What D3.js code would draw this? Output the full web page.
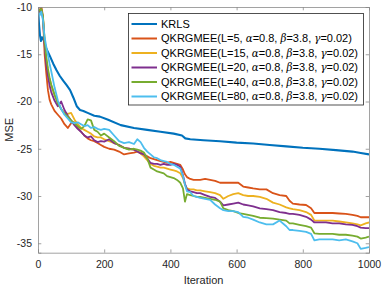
<!DOCTYPE html>
<html><head><meta charset="utf-8">
<script src="https://cdn.jsdelivr.net/npm/d3@7"></script>
<style>body{margin:0;background:#fff}svg{display:block}text{font-family:"Liberation Sans",Arial,sans-serif}</style>
</head><body><svg id="c" width="382" height="287"></svg>
<script>
const xTicks = [0, 200, 400, 600, 800, 1000];
const yTicks = [-35, -30, -25, -20, -15, -10];

const krlsIter = [0,3,6,9,12,15,20,25,36,46,56,66,76,87,97,107,117,127,137,150,170,187,210,250,290,330,370,410,435,445,460,500,550,600,650,700,750,800,850,900,950,975,1000];
const krls = [-10,-11.8,-13.0,-13.6,-13.2,-13.3,-13.8,-14.4,-15.2,-16.0,-16.7,-17.3,-17.8,-18.3,-18.8,-19.6,-20.5,-20.9,-21.0,-21.2,-21.5,-21.6,-21.9,-22.5,-22.8,-23.0,-23.2,-23.4,-23.6,-23.9,-24.0,-24.1,-24.2,-24.35,-24.45,-24.6,-24.75,-24.9,-25.0,-25.15,-25.3,-25.45,-25.6];

const iter = [0,5,10,15,20,25,30,35,40,50,60,70,80,90,100,110,120,130,140,150,160,170,180,190,200,215,230,245,260,275,290,300,310,320,330,340,350,360,370,380,390,400,410,420,430,438,444,450,460,470,480,490,505,520,535,550,560,575,590,605,620,635,650,670,690,710,730,750,760,770,790,810,825,835,850,870,890,910,930,950,965,975,990,1000];

const qL5 = [-10.2,-10.4,-9.9,-11.0,-15.0,-17.0,-18.8,-19.8,-20.3,-21.0,-21.4,-21.8,-22.4,-22.8,-22.3,-22.2,-22.8,-23.2,-23.6,-23.9,-24.1,-24.2,-24.4,-24.6,-24.8,-25.0,-25.1,-25.3,-25.6,-25.5,-25.4,-25.3,-25.4,-25.6,-25.8,-26.0,-26.1,-26.2,-26.3,-26.4,-26.5,-26.4,-26.5,-26.6,-26.7,-27.2,-27.7,-28.0,-28.2,-28.3,-28.3,-28.3,-28.2,-28.3,-28.4,-28.6,-28.6,-28.6,-28.6,-28.6,-29.0,-29.1,-29.2,-29.3,-29.3,-29.7,-29.9,-30.0,-30.5,-30.8,-30.9,-30.95,-31.3,-31.8,-31.8,-31.8,-31.8,-31.85,-31.9,-32.0,-32.1,-32.25,-32.25,-32.25];
const qL15 = [-10.3,-10.6,-10.4,-11.0,-13.5,-15.5,-16.8,-17.6,-18.3,-19.3,-20.1,-20.8,-21.2,-21.3,-21.2,-21.9,-22.4,-22.8,-23.0,-23.2,-23.4,-23.7,-23.8,-23.8,-24.0,-24.2,-24.4,-24.6,-24.9,-25.0,-25.1,-25.3,-25.5,-25.8,-26.2,-26.6,-26.8,-26.9,-27.0,-27.0,-27.1,-27.2,-27.3,-27.4,-27.6,-28.1,-28.8,-29.2,-29.3,-29.3,-29.4,-29.4,-29.5,-29.6,-29.7,-29.9,-30.3,-30.0,-29.8,-29.7,-29.9,-30.0,-30.0,-30.1,-30.3,-30.7,-30.9,-31.2,-31.3,-31.4,-31.5,-31.7,-32.0,-32.6,-32.6,-32.6,-32.6,-32.7,-32.8,-32.9,-33.0,-33.1,-32.9,-32.8];
const qL20 = [-10.3,-10.5,-10.3,-11.2,-14.0,-16.0,-17.3,-18.3,-19.0,-19.9,-20.5,-20.0,-20.9,-21.5,-22.0,-22.5,-22.9,-23.2,-23.6,-23.8,-23.7,-24.1,-24.3,-24.2,-24.25,-24.0,-24.4,-24.6,-24.9,-25.0,-25.1,-25.3,-25.5,-25.6,-26.0,-26.5,-26.6,-26.6,-26.7,-26.6,-26.7,-26.7,-26.6,-26.7,-26.9,-27.8,-28.7,-29.3,-29.5,-29.6,-29.7,-29.7,-29.9,-30.1,-30.2,-30.6,-31.0,-30.9,-30.8,-30.7,-30.9,-31.0,-31.1,-31.3,-31.4,-31.5,-31.7,-31.8,-31.9,-31.9,-32.0,-32.2,-32.5,-32.8,-32.8,-32.8,-32.9,-32.9,-33.0,-33.05,-33.2,-33.35,-33.4,-33.4];
const qL40 = [-10.2,-10.4,-10.2,-11.0,-13.6,-15.3,-16.5,-17.5,-18.2,-19.3,-20.2,-20.8,-21.3,-21.6,-22.0,-22.3,-22.6,-22.9,-22.6,-21.9,-22.0,-23.0,-23.2,-23.6,-23.4,-23.8,-24.2,-24.7,-24.9,-25.1,-25.0,-25.1,-25.2,-25.4,-26.0,-27.0,-27.2,-27.4,-27.5,-27.6,-27.9,-28.0,-28.1,-28.3,-28.6,-29.2,-30.6,-29.8,-29.9,-30.0,-30.1,-30.1,-30.2,-30.3,-30.4,-30.6,-31.3,-31.5,-31.6,-31.8,-31.9,-32.0,-32.1,-32.3,-32.35,-32.4,-32.5,-32.6,-32.9,-32.9,-33.05,-33.2,-33.35,-33.95,-34.0,-34.0,-34.0,-34.1,-34.1,-34.2,-34.3,-34.5,-34.4,-34.3];
const qL80 = [-10.5,-10.9,-10.5,-11.4,-13.2,-14.2,-15.1,-16.0,-16.8,-18.5,-19.9,-20.8,-21.4,-21.8,-22.2,-22.3,-22.2,-22.4,-22.6,-22.5,-22.8,-22.7,-22.9,-23.0,-22.9,-23.0,-23.6,-24.2,-24.4,-24.3,-24.5,-24.0,-24.3,-24.9,-25.3,-25.6,-25.9,-26.0,-26.2,-26.3,-26.4,-26.6,-26.7,-26.9,-27.1,-27.9,-28.8,-29.5,-29.6,-30.0,-30.1,-30.2,-30.3,-30.4,-30.9,-31.3,-31.5,-31.6,-31.6,-31.7,-32.2,-32.3,-32.5,-32.8,-33.0,-33.0,-32.6,-33.2,-33.6,-33.6,-33.7,-33.8,-34.0,-34.7,-34.6,-34.6,-34.6,-34.7,-34.6,-34.8,-35.0,-35.6,-35.5,-35.4];

const names = ["KRLS","QKRGMEE(L=5, ","QKRGMEE(L=15, ","QKRGMEE(L=20, ","QKRGMEE(L=40, ","QKRGMEE(L=80, "];
const colors = ["#0072BD","#D95319","#EDB120","#7E2F8E","#77AC30","#4DBEEE"];

const series = [
  {x: krlsIter, y: krls},
  {x: iter, y: qL5},
  {x: iter, y: qL15},
  {x: iter, y: qL20},
  {x: iter, y: qL40},
  {x: iter, y: qL80}
];

const svg = d3.select("#c");
const L = 38, R = 369, T = 7, B = 252.7;
const x = d3.scaleLinear().domain([0, 1000]).range([L, R]);
const y = d3.scaleLinear().domain([-36, -10]).range([B, T]);
const axisColor = "#262626";
const frameColor = "#8a8a8a";

svg.append("defs").append("clipPath").attr("id","clip")
  .append("rect").attr("x", L).attr("y", T).attr("width", R-L).attr("height", B-T);

const line = d3.line().x(d => x(d[0])).y(d => y(d[1]));
const plot = svg.append("g").attr("clip-path","url(#clip)");
series.forEach((s, i) => {
  plot.append("path")
    .datum(s.x.map((v, k) => [v, s.y[k]]))
    .attr("d", line)
    .attr("fill","none")
    .attr("stroke", colors[i])
    .attr("stroke-width", i === 0 ? 2.1 : 1.8)
    .attr("stroke-linejoin","round");
});

// axes
const tl = 3.3;
const fmt = d3.format("d");
const gx = svg.append("g").attr("transform", `translate(0,${B})`)
  .call(d3.axisBottom(x).tickValues(xTicks).tickSize(-tl).tickPadding(8).tickFormat(fmt));
const gxt = svg.append("g").attr("transform", `translate(0,${T})`)
  .call(d3.axisTop(x).tickValues(xTicks).tickSize(-tl).tickFormat(""));
const gy = svg.append("g").attr("transform", `translate(${L},0)`)
  .call(d3.axisLeft(y).tickValues(yTicks).tickSize(-tl).tickPadding(6).tickFormat(d => "-" + Math.abs(d)));
const gyr = svg.append("g").attr("transform", `translate(${R},0)`)
  .call(d3.axisRight(y).tickValues(yTicks).tickSize(-tl).tickFormat(""));
[gx, gxt, gy, gyr].forEach(g => {
  g.select(".domain").attr("stroke", frameColor).attr("stroke-width", 0.8);
  g.selectAll(".tick line").attr("stroke", frameColor).attr("stroke-width", 0.8);
  g.selectAll("text").attr("fill", axisColor).style("font-size","10.5px").style("font-family",'"Liberation Sans",Arial,sans-serif');
});

svg.append("text").attr("x", (L+R)/2).attr("y", 284).attr("text-anchor","middle")
  .attr("fill", axisColor).style("font-size","11px").text("Iteration");
svg.append("text").attr("transform", `translate(13,${(T+B)/2}) rotate(-90)`).attr("text-anchor","middle")
  .attr("fill", axisColor).style("font-size","11px").text("MSE");

// legend
const lg = svg.append("g");
lg.append("rect").attr("x",128.5).attr("y",13.5).attr("width",235).attr("height",91.5)
  .attr("fill","#fff").attr("stroke","#262626").attr("stroke-width",0.8);
const greek = t => t.append("tspan").style("font-style","italic").style("font-family",'"DejaVu Serif",serif').style("font-size","10.3px");
names.forEach((n, i) => {
  const yy = 24 + i*14.5;
  lg.append("line").attr("x1",131.5).attr("x2",157).attr("y1",yy).attr("y2",yy)
    .attr("stroke", colors[i]).attr("stroke-width", 2);
  const t = lg.append("text").attr("x",161).attr("y",yy+3.9).attr("fill","#000").style("font-size","11px");
  if (i === 0) { t.text(n); return; }
  t.append("tspan").text(n);
  greek(t).text("α");
  t.append("tspan").text("=0.8, ");
  greek(t).text("β");
  t.append("tspan").text("=3.8, ");
  greek(t).text("γ");
  t.append("tspan").text("=0.02)");
});
</script></body></html>
